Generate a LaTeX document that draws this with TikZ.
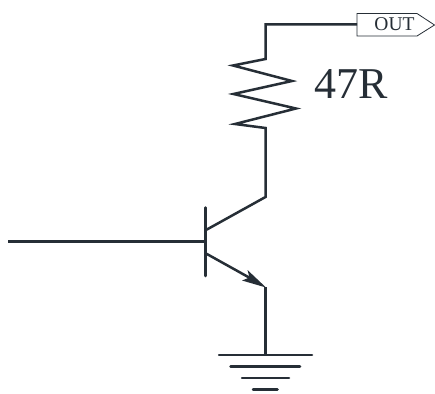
\documentclass[tikz,border=0pt]{standalone}
\usepackage{fontspec}
\setmainfont{Liberation Serif}
\definecolor{wirec}{HTML}{262E36}
\tikzset{
  wire/.style={draw=wirec,line width=2.5pt,line join=miter},
  gndbar/.style={draw=wirec,line width=2.5pt,line cap=round},
  portbox/.style={draw=wirec,line width=0.8pt,fill=white,line join=miter},
  lbl/.style={inner sep=0pt,text=wirec}
}
\begin{document}
\begin{tikzpicture}[x=1pt,y=-1pt]
\useasboundingbox (0,0) rectangle (435,393);
\coordinate (portw) at (357,24.5);
\coordinate (topc) at (265.5,24.5);
\coordinate (r1) at (265.5,59);
\coordinate (r2) at (265.5,128);
\coordinate (col) at (265.5,197);
\coordinate (bcol) at (206,230);
\coordinate (bem) at (206,253.5);
\coordinate (em) at (265.5,287);
\coordinate (gnd) at (265.5,355);
\coordinate (bin) at (8,241.5);
\coordinate (bjoin) at (205.5,241.5);
\draw[portbox] (357,13.5) -- (417,13.5) -- (434.5,25) -- (417,36) -- (357,36) -- cycle;
\node[lbl,font=\fontsize{19.5}{20}\selectfont] (outl) at (394.5,24) {OUT};
\node[lbl,font=\fontsize{44}{44}\selectfont] (rl) at (351,84.5) {47R};
\draw[wire] (portw) -- (topc) -- (r1) -- (233,65.5) -- (292,81) -- (233.5,94) -- (296,108.5) -- (235,124) -- (r2) -- (col) -- (bcol);
\draw[wire] (bin) -- (bjoin);
\draw[gndbar] (205.5,207.5) -- (205.5,276);
\draw[wire] (bem) -- (250,278);
\fill[wirec] (266,287.5) -- (247.5,270) -- (249.5,277.5) -- (242,280.5) -- cycle;
\draw[wire] (em) -- (gnd);
\draw[gndbar] (219,355) -- (312,355);
\draw[gndbar] (230.5,366.5) -- (300,366.5);
\draw[gndbar] (242,378) -- (289,378);
\draw[gndbar] (253,389.5) -- (277.5,389.5);
\end{tikzpicture}
\end{document}
